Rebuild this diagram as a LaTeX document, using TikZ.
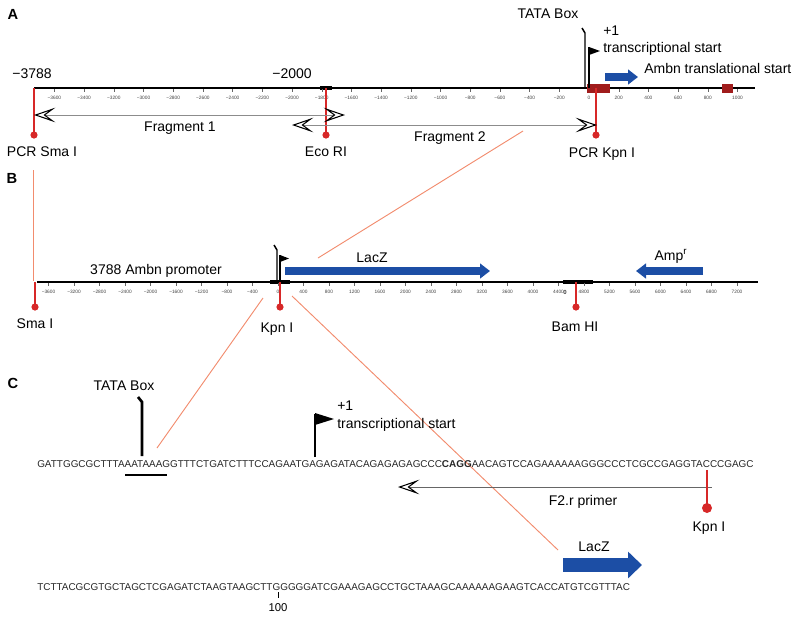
\documentclass[tikz,border=0pt]{standalone}
\usepackage{fontspec}
\setmainfont{Liberation Sans}
\usetikzlibrary{arrows.meta}
\definecolor{ambnblue}{RGB}{28,78,165}
\definecolor{sitered}{RGB}{215,40,40}
\definecolor{exonred}{RGB}{160,28,28}
\definecolor{zoomorange}{RGB}{242,140,110}
\begin{document}
\begin{tikzpicture}[x=0.75pt,y=-0.75pt,
  lab/.style={font=\fontsize{10.5}{12}\selectfont,inner sep=0pt,text height=7.5pt,text depth=0pt},
  ticklab/.style={font=\fontsize{3.6}{4}\selectfont,inner sep=0pt,text=black!75},
  seq/.style={font=\fontsize{7.45}{9}\selectfont,inner sep=0pt,anchor=west,text height=5.4pt,text depth=0pt,text=black!85},
  panel/.style={font=\fontsize{11}{13}\selectfont\bfseries,inner sep=0pt},
  axis/.style={line width=1.6pt},
  site/.style={sitered,line width=1pt},
  chev/.tip={Stealth[open,length=16pt,width=11pt,inset=7.5pt,black,line width=0.8pt]},
  frag/.style={black!45,line width=0.6pt},
  gene/.style={ambnblue,line width=6pt,-{Triangle[length=7.5pt,width=11pt]}},
  zoomline/.style={zoomorange,line width=0.7pt},
]
\useasboundingbox (0,0) rectangle (800,619);

% zoom lines
\draw[zoomline] (33,170) -- (33,281);
\draw[zoomline] (523,131) -- (318,258);
\draw[zoomline] (263,298) -- (157,448);
\draw[zoomline] (292,296) -- (558,550);

% A
\node[panel] (pA) at (13,14) {A};
\draw[axis] (34,88) -- (755,88);
\draw[line width=3.5pt] (320,88) -- (332,88);
\foreach \v in {-3600,-3400,...,1000} {
  \pgfmathsetmacro{\xp}{589+\v/200*29.7}
  \pgfmathtruncatemacro{\av}{abs(\v)}
  \draw[line width=0.3pt,black!60] (\xp,89) -- (\xp,92);
  \node[ticklab] (tickA\av) at (\xp,98) {\ifnum\v<0 −\fi\av};
}
\node[lab] (startA) at (32,73) {−3788};
\node[lab] (midA) at (292,73) {−2000};
\fill[exonred] (587,84) rectangle (610,93);
\fill[exonred] (722,84) rectangle (733,93);
\draw[gene] (605,77) -- (638,77);
\node[lab,anchor=west] (ambnA) at (644,68) {Ambn translational start};
\draw[line width=1.1pt] (582,28) -- (585,33) -- (585,88);
\node[lab] (tataA) at (548,13) {TATA Box};
\draw[line width=1.1pt] (589,88) -- (589,47);
\fill (589,47) -- (600,51) -- (589,55) -- cycle;
\node[lab,anchor=west] (plusA) at (603,30) {+1};
\node[lab,anchor=west] (tsA) at (603,47) {transcriptional start};
\draw[site] (34,88) -- (34,135);
\fill[sitered] (34,135) circle (3.6);
\node[lab] (pcrSma) at (42,151) {PCR Sma I};
\draw[site] (326,88) -- (326,135);
\fill[sitered] (326,135) circle (3.6);
\node[lab] (ecoRI) at (326,151) {Eco RI};
\draw[site] (596,88) -- (596,135);
\fill[sitered] (596,135) circle (3.6);
\node[lab] (pcrKpn) at (602,152) {PCR Kpn I};
\draw[frag,chev-chev] (34,115) -- (345,115);
\node[lab] (frag1) at (180,126) {Fragment 1};
\draw[frag,chev-chev] (292,125) -- (597,125);
\node[lab] (frag2) at (450,136) {Fragment 2};

% B
\node[panel] (pB) at (12,178) {B};
\draw[axis] (37,282) -- (758,282);
\draw[line width=3.5pt] (270,282) -- (290,282);
\draw[line width=3.5pt] (563,282) -- (593,282);
\foreach \v in {-3600,-3200,...,7200} {
  \pgfmathsetmacro{\xp}{278+\v/400*25.5}
  \pgfmathtruncatemacro{\av}{abs(\v)}
  \draw[line width=0.3pt,black!60] (\xp,283) -- (\xp,286);
  \node[ticklab] (tickB\av) at (\xp,292) {\ifnum\v<0 −\fi\av};
}
\node[ticklab,font=\fontsize{4.5}{5}\selectfont\bfseries] (zeroB) at (565,292) {0};
\node[lab] (promB) at (156,269) {3788 Ambn promoter};
\draw[gene] (285,271) -- (490,271);
\node[lab] (lacZB) at (372,257) {LacZ};
\draw[gene] (703,271) -- (636,271);
\node[lab] (ampB) at (671,255) {Amp\textsuperscript{r}};
\draw[line width=1.1pt] (274,245) -- (277,250) -- (277,282);
\draw[line width=1.1pt] (280,282) -- (280,255);
\fill (280,255) -- (289,258.5) -- (280,262) -- cycle;
\draw[site] (35,282) -- (35,307);
\fill[sitered] (35,307) circle (3.6);
\node[lab] (smaB) at (35,323) {Sma I};
\draw[site] (280,282) -- (280,307);
\fill[sitered] (280,307) circle (3.6);
\node[lab] (kpnB) at (277,327) {Kpn I};
\draw[site] (576,282) -- (576,307);
\fill[sitered] (576,307) circle (3.6);
\node[lab] (bamB) at (575,326) {Bam HI};

% C
\node[panel] (pC) at (13,383) {C};
\node[lab] (tataC) at (124,385) {TATA Box};
\draw[line width=2pt] (138,397) -- (142,402) -- (142,456);
\node[seq] (seq1) at (37,464) {GATTGGCGCTTTAAATAAAGGTTTCTGATCTTTCCAGAATGAGAGATACAGAGAGAGCCC\textbf{CAGG}AACAGTCCAGAAAAAAGGGCCCTCGCCGAGGTACCCGAGC};
\draw[line width=1.6pt] (125,475) -- (167,475);
\draw[line width=2pt] (315,457) -- (315,414);
\fill (315,413) -- (334,419) -- (315,425) -- cycle;
\node[lab,anchor=west] (plusC) at (337,405) {+1};
\node[lab,anchor=west] (tsC) at (337,423) {transcriptional start};
\draw[frag,black!60,chev-] (398,487) -- (712,487);
\node[lab] (f2r) at (583,500) {F2.r primer};
\draw[site,line width=1.6pt] (707,470) -- (707,508);
\fill[sitered] (707,508) circle (5);
\node[lab] (kpnC) at (709,526) {Kpn I};
\draw[gene,line width=11pt,-{Triangle[length=10.5pt,width=19.5pt]}] (563,565) -- (642,565);
\node[lab] (lacZC) at (594,546) {LacZ};
\node[seq] (seq2) at (37,587) {TCTTACGCGTGCTAGCTCGAGATCTAAGTAAGCTTGGGGGATCGAAAGAGCCTGCTAAAGCAAAAAAGAAGTCACCATGTCGTTTAC};
\draw[line width=0.5pt] (278,592) -- (278,598);
\node[lab,font=\fontsize{8.5}{10}\selectfont,text height=6pt] (hundred) at (278,607) {100};
\end{tikzpicture}
\end{document}
